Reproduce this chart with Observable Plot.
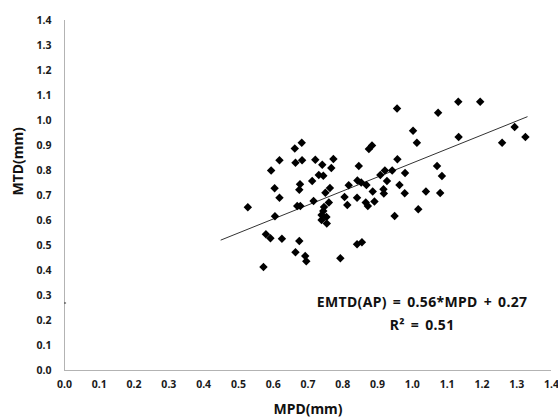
<!DOCTYPE html>
<html>
<head>
<meta charset="utf-8">
<script src="https://cdn.jsdelivr.net/npm/d3@7"></script>
<script src="https://cdn.jsdelivr.net/npm/@observablehq/plot@0.6"></script>
<style>
  html, body { margin: 0; padding: 0; background: #fff; }
  .anno text { letter-spacing: 0.35px; word-spacing: 2px; }
</style>
</head>
<body>
<div id="chart"></div>
<script>
// MPD (mm) values
const mpd = [
  0.527, 0.572, 0.579, 0.592, 0.594, 0.604, 0.618, 0.618, 0.605, 0.625,
  0.662, 0.682, 0.664, 0.683, 0.677, 0.675, 0.669, 0.678, 0.675, 0.664,
  0.692, 0.695, 0.716, 0.712, 0.721, 0.741, 0.773, 0.767, 0.731, 0.744,
  0.763, 0.750, 0.846, 0.875, 0.884, 0.817, 0.842, 0.853, 0.868, 0.886,
  0.805, 0.813, 0.841, 0.866, 0.872, 0.891, 0.908, 0.917, 0.746, 0.760,
  0.744, 0.739, 0.753, 0.739, 0.754, 0.841, 0.855, 0.793,
  0.956, 1.074, 1.132, 1.195, 1.002, 1.013, 1.133, 1.258, 1.294, 1.325,
  0.957, 1.071, 1.085, 0.979, 0.942, 0.921, 0.927, 0.963, 0.918, 0.978,
  1.039, 1.080, 1.017, 0.949
];
// MTD (mm) values
const mtd = [
  0.653, 0.414, 0.545, 0.529, 0.800, 0.729, 0.841, 0.691, 0.617, 0.527,
  0.888, 0.911, 0.831, 0.841, 0.745, 0.723, 0.658, 0.658, 0.518, 0.473,
  0.458, 0.437, 0.678, 0.758, 0.843, 0.823, 0.846, 0.810, 0.782, 0.779,
  0.730, 0.711, 0.818, 0.886, 0.900, 0.741, 0.760, 0.752, 0.742, 0.716,
  0.694, 0.662, 0.691, 0.672, 0.658, 0.676, 0.782, 0.725, 0.654, 0.672,
  0.638, 0.622, 0.614, 0.602, 0.588, 0.505, 0.513, 0.449,
  1.048, 1.031, 1.075, 1.075, 0.959, 0.911, 0.934, 0.911, 0.974, 0.934,
  0.845, 0.818, 0.778, 0.790, 0.800, 0.800, 0.758, 0.742, 0.708, 0.709,
  0.716, 0.710, 0.645, 0.618
];
// Trendline
const slope = 0.56;
const intercept = 0.27;
const trendX = [0.45, 1.33];
// Tick labels
const xTicks = [0, 0.1, 0.2, 0.3, 0.4, 0.5, 0.6, 0.7, 0.8, 0.9, 1.0, 1.1, 1.2, 1.3, 1.4];
const yTicks = [0, 0.1, 0.2, 0.3, 0.4, 0.5, 0.6, 0.7, 0.8, 0.9, 1.0, 1.1, 1.2, 1.3, 1.4];
const xLabel = "MPD(mm)";
const yLabel = "MTD(mm)";
const eqText = "EMTD(AP) = 0.56*MPD + 0.27";
const r2Text = "R\u00B2 = 0.51";

const points = mpd.map((x, i) => ({x, y: mtd[i]}));
const trend = trendX.map(x => ({x, y: slope * x + intercept}));

const axisColor = "#b3b3b3";
const font = "'Noto Sans', 'Liberation Sans', sans-serif";

const chart = Plot.plot({
  width: 558,
  height: 420,
  marginLeft: 64,
  marginRight: 7,
  marginTop: 20,
  marginBottom: 50,
  style: {fontFamily: font, fontSize: "10.5px", fontWeight: "bold", color: "#1a1a1a", background: "#fff"},
  x: {domain: [0, 1.4]},
  y: {domain: [0, 1.4]},
  marks: [
    Plot.axisX({ticks: xTicks, tickSize: 0, tickPadding: 10, tickFormat: d3.format(".1f"), label: null}),
    Plot.axisY({ticks: yTicks, tickSize: 0, tickPadding: 13, tickFormat: d3.format(".1f"), label: null}),
    Plot.ruleY([0], {stroke: axisColor, strokeWidth: 1}),
    Plot.ruleX([0], {stroke: axisColor, strokeWidth: 1}),
    Plot.ruleY([intercept], {x1: 0, x2: 0.006, stroke: "#333", strokeWidth: 1}),
    Plot.line(trend, {x: "x", y: "y", stroke: "#333", strokeWidth: 1}),
    Plot.dot(points, {x: "x", y: "y", symbol: "diamond2", r: 3.8, fill: "#000", stroke: "none"}),
    Plot.text([eqText], {x: 1.028, y: 0.273, text: d => d, fontSize: 14, fontWeight: "bold", fill: "#111", textAnchor: "middle", className: "anno"}),
    Plot.text([r2Text], {x: 1.028, y: 0.18, text: d => d, fontSize: 14, fontWeight: "bold", fill: "#111", textAnchor: "middle", className: "anno"}),
    Plot.text([xLabel], {frameAnchor: "bottom", dy: 39, text: d => d, fontSize: 14, fontWeight: "bold", fill: "#111", lineAnchor: "middle"}),
    Plot.text([yLabel], {frameAnchor: "left", dx: -46, rotate: -90, text: d => d, fontSize: 14, fontWeight: "bold", fill: "#111", lineAnchor: "middle"})
  ]
});
document.getElementById("chart").appendChild(chart);
</script>
</body>
</html>
